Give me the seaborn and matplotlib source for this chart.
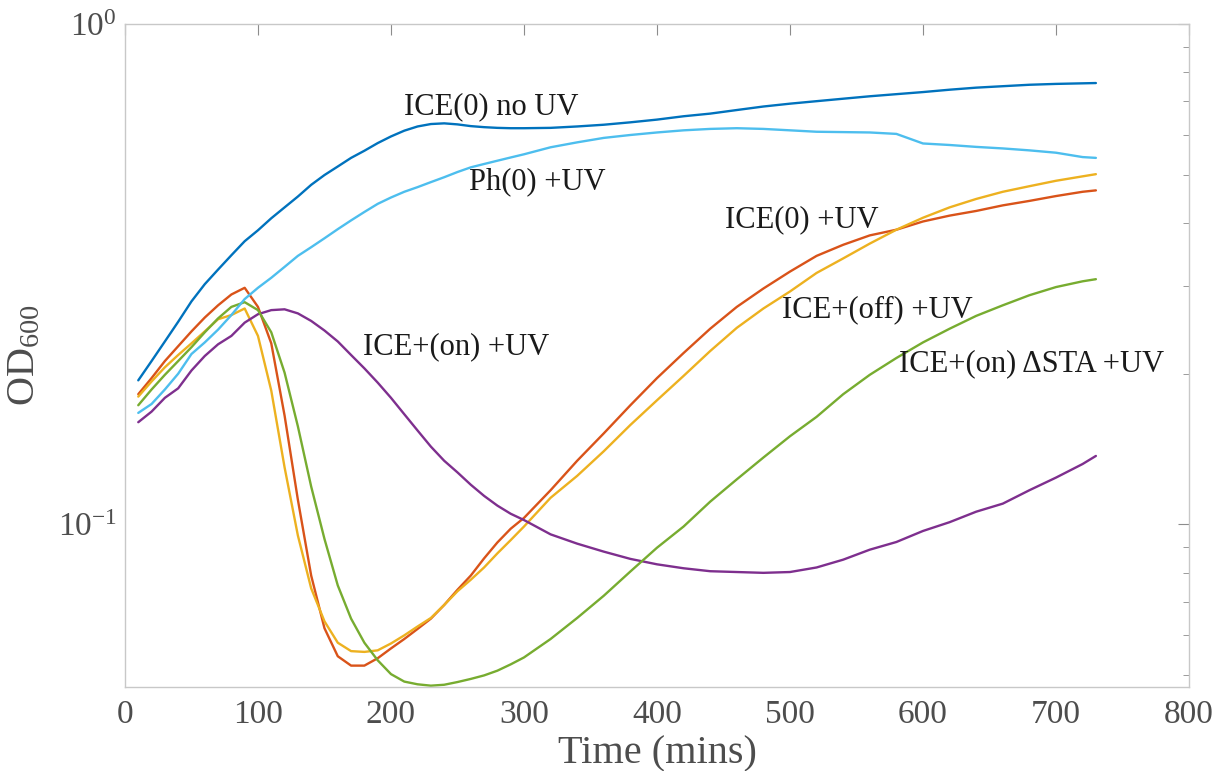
import matplotlib
matplotlib.use("Agg")
import matplotlib.pyplot as plt
import matplotlib.ticker as mticker
import numpy as np
import pandas as pd
import seaborn as sns

# sampling times (mins)
time = list(range(10, 301, 10)) + list(range(320, 721, 20)) + [730]

ice0_nouv = [0.194, 0.212, 0.232, 0.254, 0.279, 0.302, 0.323, 0.345, 0.368, 0.387,
             0.409, 0.430, 0.452, 0.477, 0.499, 0.519, 0.540, 0.558, 0.578, 0.596,
             0.612, 0.624, 0.631, 0.633, 0.630, 0.625, 0.622, 0.620, 0.619, 0.619,
             0.620, 0.624, 0.629, 0.636, 0.644, 0.654, 0.662, 0.673, 0.684, 0.693,
             0.701, 0.709, 0.717, 0.724, 0.731, 0.739, 0.746, 0.751, 0.756, 0.759,
             0.761, 0.762]
ice0_uv = [0.182, 0.196, 0.212, 0.227, 0.243, 0.259, 0.274, 0.288, 0.297, 0.272,
           0.230, 0.165, 0.112, 0.079, 0.062, 0.0545, 0.0522, 0.0522, 0.0540, 0.0565,
           0.0590, 0.0618, 0.0648, 0.0690, 0.0740, 0.0790, 0.0855, 0.0920, 0.0980, 0.1030,
           0.117, 0.134, 0.152, 0.173, 0.196, 0.220, 0.246, 0.272, 0.296, 0.320,
           0.344, 0.362, 0.378, 0.388, 0.403, 0.414, 0.423, 0.434, 0.443, 0.453,
           0.462, 0.465]
ice_off_uv = [0.180, 0.193, 0.206, 0.218, 0.230, 0.243, 0.257, 0.262, 0.270, 0.238,
              0.185, 0.130, 0.095, 0.0745, 0.064, 0.058, 0.0558, 0.0556, 0.0560, 0.0578,
              0.0600, 0.0625, 0.0650, 0.0690, 0.0735, 0.0775, 0.0820, 0.0875, 0.0930, 0.0990,
              0.113, 0.125, 0.140, 0.158, 0.177, 0.198, 0.222, 0.247, 0.270, 0.292,
              0.318, 0.340, 0.364, 0.388, 0.410, 0.430, 0.447, 0.462, 0.474, 0.486,
              0.496, 0.501]
ice_on_uv = [0.160, 0.168, 0.179, 0.187, 0.203, 0.217, 0.229, 0.238, 0.253, 0.263,
             0.268, 0.269, 0.264, 0.255, 0.244, 0.232, 0.218, 0.205, 0.192, 0.179,
             0.166, 0.154, 0.143, 0.134, 0.127, 0.120, 0.114, 0.109, 0.105, 0.102,
             0.0955, 0.0915, 0.0882, 0.0853, 0.0832, 0.0817, 0.0806, 0.0803, 0.0800, 0.0803,
             0.0820, 0.0850, 0.0890, 0.0922, 0.097, 0.101, 0.106, 0.110, 0.117, 0.124,
             0.132, 0.137]
ice_on_dsta_uv = [0.173, 0.186, 0.199, 0.212, 0.226, 0.242, 0.258, 0.272, 0.278, 0.268,
                  0.242, 0.201, 0.157, 0.119, 0.0935, 0.0755, 0.0648, 0.0580, 0.0535, 0.0502,
                  0.0485, 0.0479, 0.0476, 0.0478, 0.0484, 0.0491, 0.0499, 0.0510, 0.0525, 0.0542,
                  0.0590, 0.0650, 0.0720, 0.0805, 0.0898, 0.099, 0.111, 0.123, 0.136, 0.150,
                  0.164, 0.182, 0.199, 0.215, 0.231, 0.246, 0.261, 0.274, 0.287, 0.298,
                  0.306, 0.309]
ph0_uv = [0.167, 0.174, 0.186, 0.200, 0.219, 0.231, 0.245, 0.262, 0.282, 0.297,
          0.311, 0.327, 0.344, 0.358, 0.373, 0.389, 0.405, 0.421, 0.437, 0.450,
          0.462, 0.472, 0.483, 0.494, 0.506, 0.517, 0.525, 0.533, 0.541, 0.549,
          0.567, 0.580, 0.592, 0.600, 0.607, 0.613, 0.617, 0.619, 0.617, 0.613,
          0.609, 0.608, 0.607, 0.603, 0.577, 0.573, 0.568, 0.564, 0.559, 0.553,
          0.542, 0.540]

strains = ["ICE(0) no UV", "ICE(0) +UV", "ICE+(off) +UV", "ICE+(on) +UV",
           "ICE+(on) ΔSTA +UV", "Ph(0) +UV"]
series = [ice0_nouv, ice0_uv, ice_off_uv, ice_on_uv, ice_on_dsta_uv, ph0_uv]
colors = ["#0072BD", "#D95319", "#EDB120", "#7E2F8E", "#77AC30", "#4DBEEE"]

df = pd.concat(
    [pd.DataFrame({"time": time, "od": s, "strain": name}) for name, s in zip(strains, series)],
    ignore_index=True,
)

sns.set_style("white")
plt.rcParams["font.family"] = ["Liberation Serif", "DejaVu Serif"]
plt.rcParams["mathtext.fontset"] = "custom"
plt.rcParams["mathtext.rm"] = "Liberation Serif"
plt.rcParams["mathtext.it"] = "Liberation Serif:italic"

fig = plt.figure(figsize=(12.24, 7.71), dpi=100)
ax = fig.add_axes([0.1021, 0.1089, 0.8693, 0.86])

sns.lineplot(data=df, x="time", y="od", hue="strain", hue_order=strains,
             palette=dict(zip(strains, colors)), linewidth=1.7, legend=False,
             estimator=None, sort=False, ax=ax)

ax.set_yscale("log")
ax.set_xlim(0, 800)
ax.set_ylim(0.0473, 1.0)
ax.set_xticks(range(0, 801, 100))
ax.yaxis.set_major_locator(mticker.LogLocator(base=10, numticks=5))
ax.yaxis.set_minor_locator(mticker.LogLocator(base=10, subs=np.arange(2, 10), numticks=10))
ax.yaxis.set_minor_formatter(mticker.NullFormatter())

for sp in ax.spines.values():
    sp.set_color("#c8c8c8")
    sp.set_linewidth(1.0)
ax.tick_params(which="both", direction="in", top=True, right=True,
               color="#8c8c8c", labelcolor="#4d4d4d", labelsize=24)
ax.tick_params(axis="x", pad=9)
ax.tick_params(axis="y", pad=6)
ax.tick_params(which="major", length=8)
ax.tick_params(which="minor", length=4)

ax.set_xlabel("Time (mins)", fontsize=29, color="#4d4d4d", labelpad=4)
ax.set_ylabel(r"OD$_{600}$", fontsize=29, color="#4d4d4d", labelpad=10)

txt = dict(fontsize=22, color="#1a1a1a", ha="left", va="center")
ax.text(210, 0.682, "ICE(0) no UV", **txt)
ax.text(259, 0.483, "Ph(0) +UV", **txt)
ax.text(451, 0.406, "ICE(0) +UV", **txt)
ax.text(494, 0.269, "ICE+(off) +UV", **txt)
ax.text(179, 0.226, "ICE+(on) +UV", **txt)
ax.text(582, 0.209, "ICE+(on) ΔSTA +UV", **txt)

fig.savefig("out.png", dpi=100)
